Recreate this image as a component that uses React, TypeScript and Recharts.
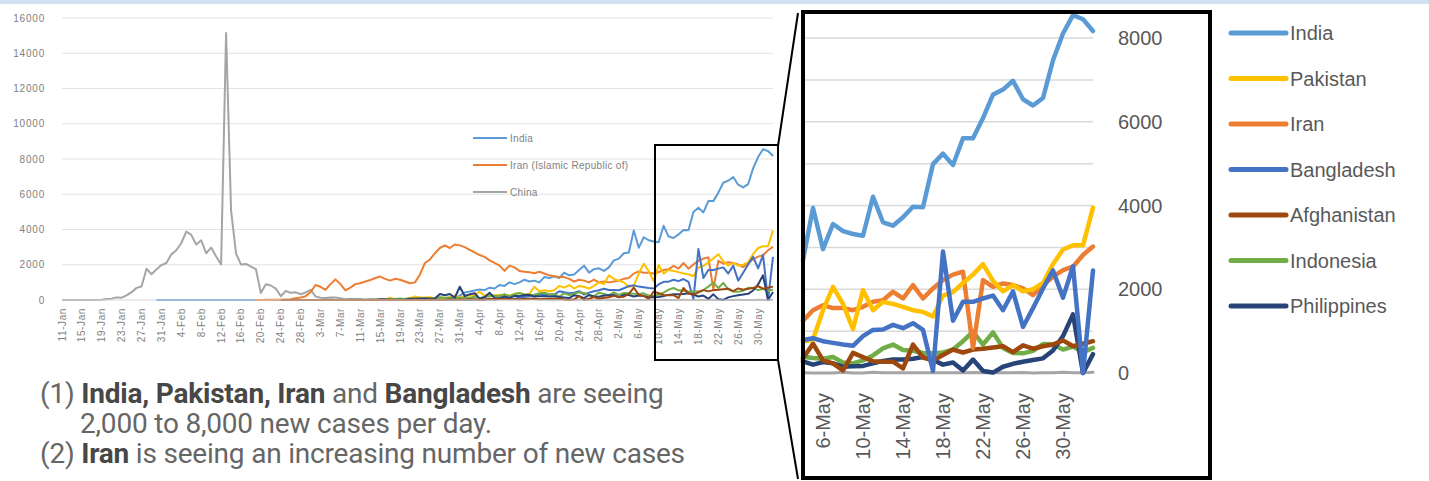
import React from 'react';
import { LineChart, Line, XAxis, YAxis, ReferenceLine } from 'recharts';

// ---------- categories ----------
const monthNames = ['Jan', 'Feb', 'Mar', 'Apr', 'May', 'Jun'];
const monthLengths = [31, 29, 31, 30, 31, 30];
const firstDay = { month: 0, day: 11 };
const lastDay = { month: 5, day: 2 };

function buildDates(): string[] {
  const out: string[] = [];
  for (let m = firstDay.month; m <= lastDay.month; m++) {
    const from = m === firstDay.month ? firstDay.day : 1;
    const to = m === lastDay.month ? lastDay.day : monthLengths[m];
    for (let d = from; d <= to; d++) out.push(`${d}-${monthNames[m]}`);
  }
  return out;
}
const dates = buildDates();
const zoomStart = '4-May';

const mainTicks = ['11-Jan', '15-Jan', '19-Jan', '23-Jan', '27-Jan', '31-Jan', '4-Feb', '8-Feb', '12-Feb', '16-Feb', '20-Feb', '24-Feb', '28-Feb', '3-Mar', '7-Mar', '11-Mar', '15-Mar', '19-Mar', '23-Mar', '27-Mar', '31-Mar', '4-Apr', '8-Apr', '12-Apr', '16-Apr', '20-Apr', '24-Apr', '28-Apr', '2-May', '6-May', '10-May', '14-May', '18-May', '22-May', '26-May', '30-May'];
const zoomTicks = ['6-May', '10-May', '14-May', '18-May', '22-May', '26-May', '30-May'];
const mainYTicks = [0, 2000, 4000, 6000, 8000, 10000, 12000, 14000, 16000];
const zoomYTicks = [0, 2000, 4000, 6000, 8000];
const zoomGrid = [1000, 2000, 3000, 4000, 5000, 6000, 7000, 8000];

// ---------- series values (daily new cases) ----------
const chinaStart = '11-Jan';
const chinaToMay3 = [
  0, 0, 0, 0, 0, 0, 0, 4, 17, 59, 77, 149, 131, 259, 444, 688, 769, 1771, 1459, 1737, 1981,
  2099, 2589, 2825, 3235, 3884, 3694, 3143, 3385, 2652, 2973, 2467, 2015, 15152, 5090, 2641, 2008, 2048, 1888, 1749, 391, 889, 823, 648, 214, 508, 406, 433, 327, 427,
  573, 202, 125, 119, 139, 143, 99, 44, 40, 19, 24, 15, 8, 11, 20, 16, 21, 13, 34, 39, 41, 46, 39, 78, 47, 67, 55, 54, 45, 31, 48,
  36, 35, 31, 19, 30, 39, 32, 62, 62, 42, 46, 99, 108, 89, 46, 26, 27, 18, 16, 11, 12, 11, 30, 11, 12, 3, 3, 2, 22, 4,
  12, 2, 1,
];
const chinaMay = [3, 2, 1, 1, 17, 1, 1, 17, 7, 3, 4, 8, 5, 7, 6, 6, 7, 11, 4, 3, 3, 7, 11, 2, 6, 7, 17, 4, 5, 16];

const indiaStart = '30-Jan';
const indiaToMay3 = [
  1, 0,
  0, 1, 1, 0, 0, 0, 0, 0, 0, 0, 0, 0, 0, 0, 0, 0, 0, 0, 0, 0, 0, 0, 0, 0, 0, 0, 0, 0, 0,
  0, 2, 1, 2, 23, 1, 2, 1, 4, 9, 15, 12, 6, 7, 6, 9, 11, 29, 19, 28, 50, 80, 80, 70, 70, 90, 80, 110, 140, 90, 250,
  430, 480, 540, 600, 560, 700, 650, 850, 800, 1000, 900, 1000, 1150, 1050, 1100, 1000, 1300, 1250, 1350, 1250, 1550, 1400, 1450, 1700, 1950, 1550, 1750, 1800, 1650, 1850,
  2250, 2350, 2650,
];
const indiaMay = [2700, 3940, 2960, 3560, 3390, 3320, 3280, 4210, 3600, 3520, 3720, 3970, 3960, 4990, 5240, 4970, 5610, 5610, 6090, 6650, 6770, 6980, 6540, 6390, 6570, 7470, 8110, 8550, 8450, 8170];

const iranStart = '19-Feb';
const iranToMay3 = [
  2, 3, 13, 10, 15, 20, 35, 45, 105, 145, 210,
  450, 850, 750, 580, 900, 1170, 900, 550, 700, 900, 950, 1050, 1130, 1250, 1330, 1200, 1100, 1200, 1150, 1050, 950, 1000, 1450, 2100, 2300, 2650, 2950, 3100, 2950, 3150, 3100,
  3000, 2850, 2700, 2550, 2450, 2250, 2100, 1950, 1650, 1950, 1850, 1650, 1600, 1570, 1520, 1600, 1500, 1400, 1350, 1300, 1300, 1200, 1050, 1150, 1100, 1000, 1150, 1000, 1050, 1000,
  1050, 1100, 1200,
];
const iranMay = [1250, 1500, 1620, 1550, 1550, 1500, 1580, 1700, 1740, 1940, 1780, 2100, 1780, 2020, 2220, 2350, 2420, 600, 2220, 2060, 2140, 2100, 2020, 1860, 2100, 2300, 2460, 2540, 2820, 3020];

const pakistanStart = '11-Mar';
const pakistanToMay3 = [
  0, 1, 7, 8, 0, 22, 134, 50, 57, 69, 108, 200, 140, 140, 160, 90, 150, 120, 150, 250, 120,
  240, 250, 270, 470, 250, 300, 250, 300, 250, 250, 350, 400, 300, 350, 750, 500, 550, 500, 550, 800, 700, 850, 650, 800, 750, 650, 800, 1000, 900, 1400,
  1200, 1100, 1000,
];
const pakistanMay = [750, 800, 1500, 2060, 1650, 1050, 1980, 1500, 1700, 1650, 1580, 1500, 1460, 1350, 1850, 1930, 2150, 2350, 2600, 2200, 1950, 2100, 1950, 2000, 2150, 2600, 2950, 3050, 3050, 3950];

const bangladeshStart = '8-Mar';
const bangladeshToMay3 = [
  3, 0, 0, 0, 0, 0, 0, 2, 2, 4, 1, 3, 7, 4, 0, 6, 6, 5, 9, 0, 0, 0, 1, 2,
  2, 5, 5, 9, 18, 35, 41, 54, 112, 94, 58, 139, 182, 209, 219, 341, 266, 306, 312, 492, 434, 390, 414, 503, 309, 418, 497, 549, 641, 564,
  571, 552, 665,
];
const bangladeshMay = [790, 830, 760, 720, 680, 650, 880, 1030, 1040, 1150, 1070, 1190, 1030, 50, 2900, 1250, 1700, 1700, 1780, 1850, 1500, 1950, 1100, 1550, 2020, 2450, 1800, 2550, 0, 2450];

const afghanistanStart = '24-Feb';
const afghanistanToMay3 = [
  1, 0, 0, 0, 0, 0,
  0, 0, 0, 0, 0, 0, 3, 0, 0, 0, 3, 0, 1, 0, 3, 5, 5, 0, 0, 1, 4, 16, 0, 6, 34, 0, 1, 0, 50, 0, 26,
  22, 46, 43, 0, 29, 68, 30, 56, 40, 40, 37, 34, 58, 49, 70, 49, 61, 63, 66, 88, 35, 0, 22, 227, 0, 67, 172, 68, 124, 159,
  235, 171, 190,
];
const afghanistanMay = [350, 700, 300, 230, 60, 480, 380, 280, 270, 270, 110, 680, 370, 300, 430, 560, 490, 560, 580, 610, 640, 500, 660, 580, 640, 680, 780, 640, 700, 760];

const indonesiaStart = '2-Mar';
const indonesiaToMay3 = [
  2, 0, 0, 0, 2, 0, 2, 13, 8, 7, 0, 35, 27, 21, 17, 38, 55, 82, 60, 81, 64, 65, 106, 105, 103, 153, 109, 130, 129, 114,
  149, 113, 196, 106, 181, 218, 247, 218, 337, 219, 330, 399, 316, 282, 297, 380, 407, 325, 327, 185, 375, 283, 357, 436, 396, 275, 214, 415, 347, 260,
  433, 292, 395,
];
const indonesiaMay = [390, 360, 340, 380, 250, 230, 300, 420, 590, 680, 550, 530, 480, 470, 490, 560, 760, 990, 680, 970, 600, 480, 470, 530, 690, 680, 560, 630, 500, 600];

const philippinesStart = '5-Mar';
const philippinesToMay3 = [
  2, 0, 1, 0, 14, 9, 16, 3, 12, 0, 42, 47, 15, 10, 15, 12, 77, 73, 82, 90, 71, 84, 343, 272, 343, 128, 750,
  227, 322, 385, 76, 152, 414, 104, 106, 206, 119, 233, 220, 284, 291, 192, 207, 218, 200, 209, 172, 140, 111, 271, 211, 102, 285, 198, 181, 254, 276,
  284, 156, 295,
];
const philippinesMay = [280, 200, 260, 230, 150, 160, 170, 230, 290, 320, 320, 340, 380, 310, 200, 250, 60, 320, 50, 10, 150, 220, 270, 310, 350, 540, 880, 1400, 0, 450];

// ---------- series registry ----------
type S = { key: string; start: string; early: number[]; may: number[] };
const series: S[] = [
  { key: 'China', start: chinaStart, early: chinaToMay3, may: chinaMay },
  { key: 'India', start: indiaStart, early: indiaToMay3, may: indiaMay },
  { key: 'Iran', start: iranStart, early: iranToMay3, may: iranMay },
  { key: 'Pakistan', start: pakistanStart, early: pakistanToMay3, may: pakistanMay },
  { key: 'Bangladesh', start: bangladeshStart, early: bangladeshToMay3, may: bangladeshMay },
  { key: 'Afghanistan', start: afghanistanStart, early: afghanistanToMay3, may: afghanistanMay },
  { key: 'Indonesia', start: indonesiaStart, early: indonesiaToMay3, may: indonesiaMay },
  { key: 'Philippines', start: philippinesStart, early: philippinesToMay3, may: philippinesMay },
];

const colors: Record<string, string> = {
  China: '#a5a5a5',
  India: '#5b9bd5',
  Iran: '#ed7d31',
  Pakistan: '#ffc000',
  Bangladesh: '#4472c4',
  Afghanistan: '#9e480e',
  Indonesia: '#70ad47',
  Philippines: '#264478',
};

const mainData = dates.map((date, i) => {
  const row: Record<string, any> = { date };
  series.forEach((s) => {
    const st = dates.indexOf(s.start);
    const vals = [...s.early, ...s.may];
    row[s.key] = i >= st ? vals[i - st] : null;
  });
  return row;
});

const zoomDates = dates.slice(dates.indexOf(zoomStart));
const zoomData = zoomDates.map((date, j) => {
  const row: Record<string, any> = { date };
  series.forEach((s) => {
    row[s.key] = s.may[j];
  });
  return row;
});

const mainOrder = ['China', 'India', 'Iran', 'Pakistan', 'Bangladesh', 'Indonesia', 'Philippines', 'Afghanistan'];
const zoomOrder = ['China', 'Indonesia', 'Philippines', 'Afghanistan', 'Iran', 'Pakistan', 'Bangladesh', 'India'];
const rightLegend = ['India', 'Pakistan', 'Iran', 'Bangladesh', 'Afghanistan', 'Indonesia', 'Philippines'];
const mainLegend = [
  { key: 'India', label: 'India' },
  { key: 'Iran', label: 'Iran (Islamic Republic of)' },
  { key: 'China', label: 'China' },
];

const MainXTick = (props: any) => {
  const { x, y, payload } = props;
  return (
    <text x={x} y={y} dy="0.35em" textAnchor="end" transform={`rotate(-90, ${x}, ${y})`}
      fontSize={10} fill="#7f7f7f" fontFamily="Liberation Sans, Arial, sans-serif" letterSpacing={0.6}>
      {payload.value}
    </text>
  );
};

const ZoomXTick = (props: any) => {
  const { x, y, payload } = props;
  return (
    <text x={x} y={y} dy="0.35em" textAnchor="end" transform={`rotate(-90, ${x}, ${y})`}
      fontSize={20} fill="#595959" fontFamily="Liberation Sans, Arial, sans-serif">
      {payload.value}
    </text>
  );
};

export default function App() {
  return (
    <div style={{ position: 'fixed', left: 0, top: 0, width: 1429, height: 481, background: '#ffffff', overflow: 'hidden' }}>
      <div style={{ position: 'absolute', left: 0, top: 0, width: 1429, height: 4, background: '#cfe0f2' }} />

      {/* main chart */}
      <div style={{ position: 'absolute', left: 0, top: 0 }}>
        <LineChart width={790} height={360} data={mainData} margin={{ top: 18, right: 17, bottom: 0, left: 0 }}>
          {mainYTicks.filter((v) => v > 0).map((v) => (
            <ReferenceLine key={v} y={v} stroke="#e3e3e3" strokeWidth={1} />
          ))}
          <XAxis dataKey="date" ticks={mainTicks} interval={0} height={60} tickSize={0} tickMargin={8}
            axisLine={{ stroke: '#d9d9d9' }} tickLine={false} tick={<MainXTick />} />
          <YAxis domain={[0, 16000]} ticks={mainYTicks} width={62} tickSize={0} tickMargin={17} axisLine={false} tickLine={false}
            tick={{ fontSize: 10, fill: '#7f7f7f', fontFamily: 'Liberation Sans, Arial, sans-serif', letterSpacing: 0.8 }} />
          {mainOrder.map((k) => (
            <Line key={k} dataKey={k} type="linear" stroke={colors[k]} strokeWidth={2} dot={false}
              isAnimationActive={false} connectNulls={false} strokeLinejoin="round" />
          ))}
        </LineChart>
      </div>

      {/* zoomed chart */}
      <div style={{ position: 'absolute', left: 0, top: 0 }}>
        <LineChart width={1200} height={481} data={zoomData} margin={{ top: 13, right: 0, bottom: 0, left: 803 }}>
          {zoomGrid.map((v) => (
            <ReferenceLine key={v} y={v} stroke="#d9d9d9" strokeWidth={1.5} />
          ))}
          <XAxis dataKey="date" ticks={zoomTicks} interval={0} height={108} tickSize={0} tickMargin={20}
            axisLine={false} tickLine={false} tick={<ZoomXTick />} />
          <YAxis orientation="right" domain={[0, 8600]} ticks={zoomYTicks} width={107} tickSize={0} tickMargin={25}
            axisLine={false} tickLine={false}
            tick={{ fontSize: 20, fill: '#595959', fontFamily: 'Liberation Sans, Arial, sans-serif' }} />
          {zoomOrder.map((k) => (
            <Line key={k} dataKey={k} type="linear" stroke={colors[k]} strokeWidth={k === 'China' ? 3 : 4.5} dot={false}
              isAnimationActive={false} strokeLinejoin="round" strokeLinecap="round" />
          ))}
        </LineChart>
      </div>

      {/* overlay: frames, connectors, legends */}
      <svg width={1429} height={481} style={{ position: 'absolute', left: 0, top: 0 }}>
        <rect x={655} y={145} width={123} height={215} fill="none" stroke="#000" strokeWidth={2} />
        <line x1={778} y1={146} x2={798} y2={13} stroke="#000" strokeWidth={2} />
        <line x1={778} y1={360} x2={798} y2={479} stroke="#000" strokeWidth={2} />
        <rect x={803} y={12} width={407} height={466} fill="none" stroke="#000" strokeWidth={4} />

        {mainLegend.map((m, i) => (
          <g key={m.key}>
            <line x1={473} x2={507} y1={138 + i * 27} y2={138 + i * 27} stroke={colors[m.key]} strokeWidth={2} />
            <text x={510} y={138 + i * 27} dy="0.35em" fontSize={10} fill="#7f7f7f"
              fontFamily="Liberation Sans, Arial, sans-serif" letterSpacing={0.3}>{m.label}</text>
          </g>
        ))}

        {rightLegend.map((k, i) => (
          <g key={k}>
            <line x1={1231} x2={1286} y1={33 + i * 45.5} y2={33 + i * 45.5} stroke={colors[k]} strokeWidth={5} strokeLinecap="round" />
            <text x={1290} y={33 + i * 45.5} dy="0.35em" fontSize={20} fill="#595959"
              fontFamily="Liberation Sans, Arial, sans-serif">{k}</text>
          </g>
        ))}
      </svg>

      {/* notes */}
      <div style={{ position: 'absolute', left: 40, top: 379, fontFamily: 'Roboto, sans-serif', fontSize: 28, lineHeight: '30px', color: '#666', whiteSpace: 'nowrap', letterSpacing: -0.2 }}>
        <div>(1) <b style={{ color: '#474747' }}>India, Pakistan, Iran</b> and <b style={{ color: '#474747' }}>Bangladesh</b> are seeing</div>
        <div style={{ paddingLeft: 40 }}>2,000 to 8,000 new cases per day.</div>
        <div>(2) <b style={{ color: '#474747' }}>Iran</b> is seeing an increasing number of new cases</div>
      </div>
    </div>
  );
}
